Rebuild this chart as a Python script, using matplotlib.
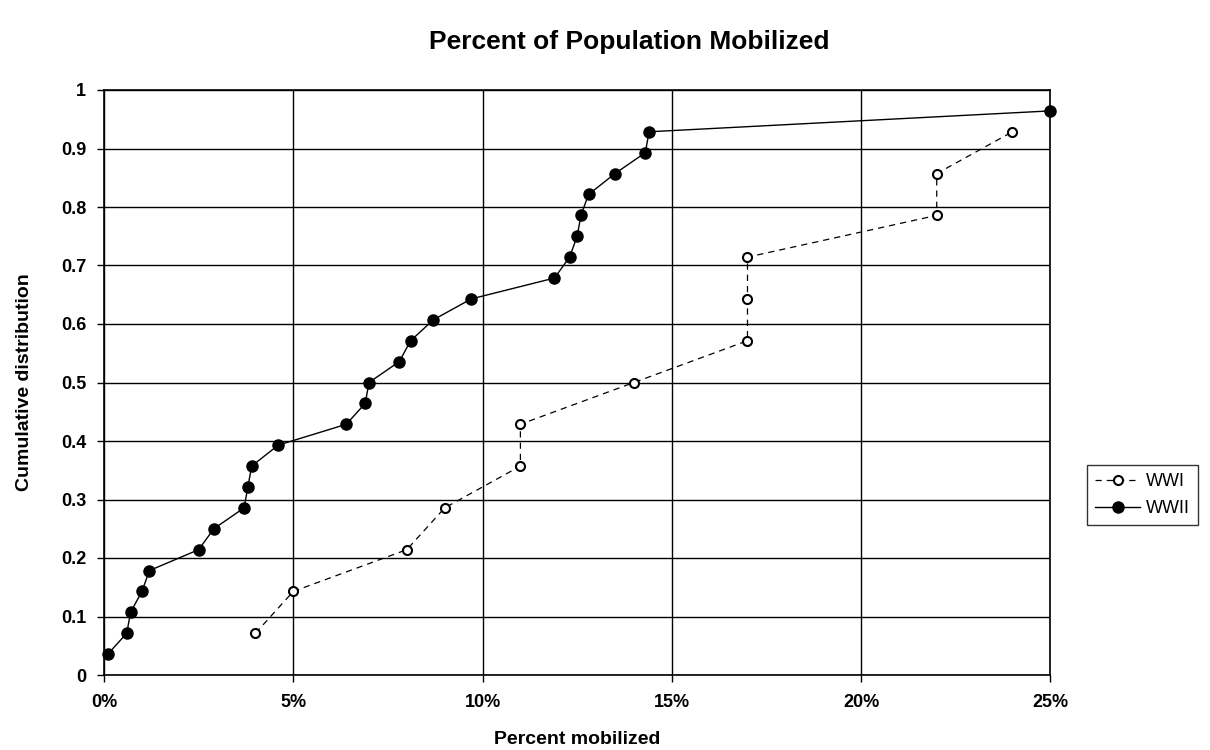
import numpy as np
import matplotlib.pyplot as plt
from matplotlib.ticker import FuncFormatter

plt.rcParams['font.family'] = ['Liberation Sans', 'DejaVu Sans']

# percent mobilized (sorted)
wwi_pct = [4, 5, 8, 9, 11, 11, 14, 17, 17, 17, 22, 22, 24]
wwii_pct = [0.1, 0.6, 0.7, 1.0, 1.2, 2.5, 2.9, 3.7, 3.8, 3.9, 4.6, 6.4, 6.9, 7.0,
            7.8, 8.1, 8.7, 9.7, 11.9, 12.3, 12.5, 12.6, 12.8, 13.5, 14.3, 14.4, 25.0]

# cumulative distribution values
wwi_cdf = [(i + 1) / 14 for i in range(len(wwi_pct))]
wwii_cdf = [(i + 1) / 28 for i in range(len(wwii_pct))]

fig = plt.figure(figsize=(12.1, 7.5), dpi=100)
ax = fig.add_axes([0.086, 0.1, 0.782, 0.78])

ax.plot(wwi_pct, wwi_cdf, color='black', ls=(0, (5, 4)), lw=0.9, marker='o',
        ms=6.5, mfc='white', mec='black', mew=1.5, label='WWI')
ax.plot(wwii_pct, wwii_cdf, color='black', ls='-', lw=1.0, marker='o',
        ms=8, mfc='black', mec='black', label='WWII', clip_on=False)

ax.set_xlim(0, 25)
ax.set_ylim(0, 1)
ax.set_xticks(np.arange(0, 26, 5))
ax.set_yticks(np.arange(0, 1.01, 0.1))
ax.xaxis.set_major_formatter(FuncFormatter(lambda v, p: f"{v:.0f}%"))
ax.yaxis.set_major_formatter(FuncFormatter(lambda v, p: f"{v:.1f}".rstrip('0').rstrip('.') if v else "0"))
ax.grid(True, color='black', lw=1.0)
ax.set_axisbelow(True)
for s in ax.spines.values():
    s.set_color('black')
    s.set_linewidth(1.2)
ax.tick_params(axis='both', labelsize=13, length=5, width=1, color='black')
ax.tick_params(axis='x', pad=9)
ax.tick_params(axis='y', pad=8)
for lbl in ax.get_xticklabels() + ax.get_yticklabels():
    lbl.set_fontweight('bold')

ax.set_xlabel('Percent mobilized', fontsize=14, fontweight='bold', labelpad=14)
ax.set_ylabel('Cumulative distribution', fontsize=14, fontweight='bold', labelpad=20)
fig.suptitle('Percent of Population Mobilized', fontsize=19, fontweight='bold',
             x=0.52, y=0.96)

fig.legend(loc='center', bbox_to_anchor=(0.944, 0.34), fontsize=13, frameon=True,
           fancybox=False, edgecolor='black', handlelength=2.5, borderpad=0.45,
           labelspacing=0.55, handletextpad=0.3)

fig.savefig('out.png', dpi=100)
